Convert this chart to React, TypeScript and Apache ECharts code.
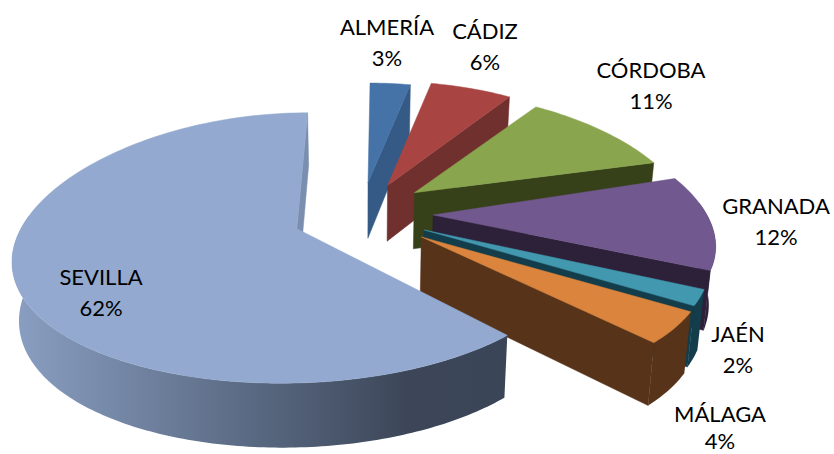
import React, { useEffect, useRef } from "react";
import * as echarts from "echarts";

const PROVINCES = ["ALMERÍA", "CÁDIZ", "CÓRDOBA", "GRANADA", "JAÉN", "MÁLAGA", "SEVILLA"];
const SHARES = [3, 6, 11, 12, 2, 4, 62];

const TOP_COLORS = ["#4572a7", "#a84542", "#89a54e", "#71588f", "#4198af", "#db843d", "#93a9cf"];
const WALL_COLORS = ["#345a85", "#70302d", "#374119", "#2d2139", "#133d4a", "#57331a", "#7a8fb0"];
const LABEL_CENTERS = [[387, 42], [485, 46], [651, 85], [776, 221], [738, 349], [720, 426.5], [101, 292]];
const LABEL_GAPS = [15.5, 15.5, 15.5, 15.5, 15.5, 13.5, 15.5];
const SLICE_SHIFT_X = [-3, 3, 4, 3, -2, 0, -7];
const SLICE_SHIFT_Y = [-9, -12, -10, -13, -9, -9, -9];
const SLICE_TILT_X = [0, 0, 0, 0, 0, 0, 3];
const SLICE_TILT_Y = [0, 0, 0, 0, 0, 0, 4.5];
const APEX_SHIFT_X = [-3, -7, -9, -5, -2, 0, 0];
const APEX_SHIFT_Y = [-5, -1, -5, 0, -2, 0, 0];
const EXPLODE = 0.25;
const CX = 368, Y0 = 226, RX = 268, RY = 122, PERSP = 0.2, DEPTH = 57;

function project(X: number, Y: number, down: number, i: number) {
  const s = 1 / (1 + PERSP * Y);
  const x = CX + RX * X * s + SLICE_TILT_X[i] * X;
  const y = Y0 - RY * Y * s - 7.7 * Y * Y - SLICE_TILT_Y[i] * Y;
  return [x + (CX - x) * 0.02 * down + SLICE_SHIFT_X[i], y + DEPTH * Math.sqrt(s) * down + SLICE_SHIFT_Y[i]];
}

function renderSlice(params: any, api: any) {
  const i = params.dataIndex;
  const total = SHARES.reduce((a, b) => a + b, 0);
  const before = SHARES.slice(0, i).reduce((a, b) => a + b, 0);
  const a0 = (before / total) * Math.PI * 2;
  const a1 = ((before + api.value(0)) / total) * Math.PI * 2;
  const mid = (a0 + a1) / 2;
  const ox = EXPLODE * Math.sin(mid), oy = EXPLODE * Math.cos(mid);
  const rim = (a: number, down: number) => project(ox + Math.sin(a), oy + Math.cos(a), down, i);
  const apex = (down: number) => {
    const p = project(ox, oy, down, i);
    return [p[0] + APEX_SHIFT_X[i], p[1] + APEX_SHIFT_Y[i]];
  };
  const N = Math.max(4, Math.ceil((a1 - a0) * 40));
  const topPts: number[][] = [apex(0)];
  for (let k = 0; k <= N; k++) topPts.push(rim(a0 + ((a1 - a0) * k) / N, 0));

  const children: any[] = [];
  const wallColor = WALL_COLORS[i];
  const endFace = [apex(0), rim(a1, 0), rim(a1, 1), apex(1)];
  children.push({ type: "polygon", shape: { points: endFace }, style: { fill: wallColor, stroke: wallColor, lineWidth: 0.5 } });

  const w0 = Math.max(a0, Math.PI / 2 - 0.1), w1 = Math.min(a1, (3 * Math.PI) / 2 + 0.1);
  if (w1 > w0) {
    const up: number[][] = [], low: number[][] = [];
    for (let k = 0; k <= N; k++) {
      const a = w0 + ((w1 - w0) * k) / N;
      up.push(rim(a, 0));
      low.unshift(rim(a, 1));
    }
    const fill: any = i === SHARES.length - 1
      ? { type: "linear", x: 1, y: 0, x2: 0, y2: 0, colorStops: [
          { offset: 0, color: "#3a4557" }, { offset: 0.2, color: "#3c4658" },
          { offset: 0.55, color: "#5d6d87" }, { offset: 1, color: "#8a9fc2" } ] }
      : wallColor;
    children.push({ type: "polygon", shape: { points: up.concat(low) }, style: { fill } });
  }
  const topColor = TOP_COLORS[i];
  children.push({ type: "polygon", shape: { points: topPts }, style: { fill: topColor, stroke: topColor, lineWidth: 0.5 } });
  const lines = [PROVINCES[i], `${api.value(0)}%`];
  lines.forEach((text, n) => {
    children.push({
      type: "text",
      style: {
        text,
        x: LABEL_CENTERS[i][0], y: LABEL_CENTERS[i][1] + (n === 0 ? -LABEL_GAPS[i] : LABEL_GAPS[i]),
        fill: "#000", font: "22px Lato, sans-serif", align: "center", verticalAlign: "middle",
      },
    });
  });
  return { type: "group", children };
}

export default function App() {
  const ref = useRef<HTMLDivElement>(null);
  useEffect(() => {
    const chart = echarts.init(ref.current!, null, { renderer: "svg" });
    chart.setOption({
      animation: false,
      backgroundColor: "#fff",
      series: [{
        type: "custom",
        coordinateSystem: "none",
        renderItem: renderSlice,
        data: SHARES.map((v, i) => ({ name: PROVINCES[i], value: [v, i] })),
      }],
    });
    return () => chart.dispose();
  }, []);
  return <div ref={ref} style={{ position: "fixed", left: 0, top: 0, width: 834, height: 454 }} />;
}
